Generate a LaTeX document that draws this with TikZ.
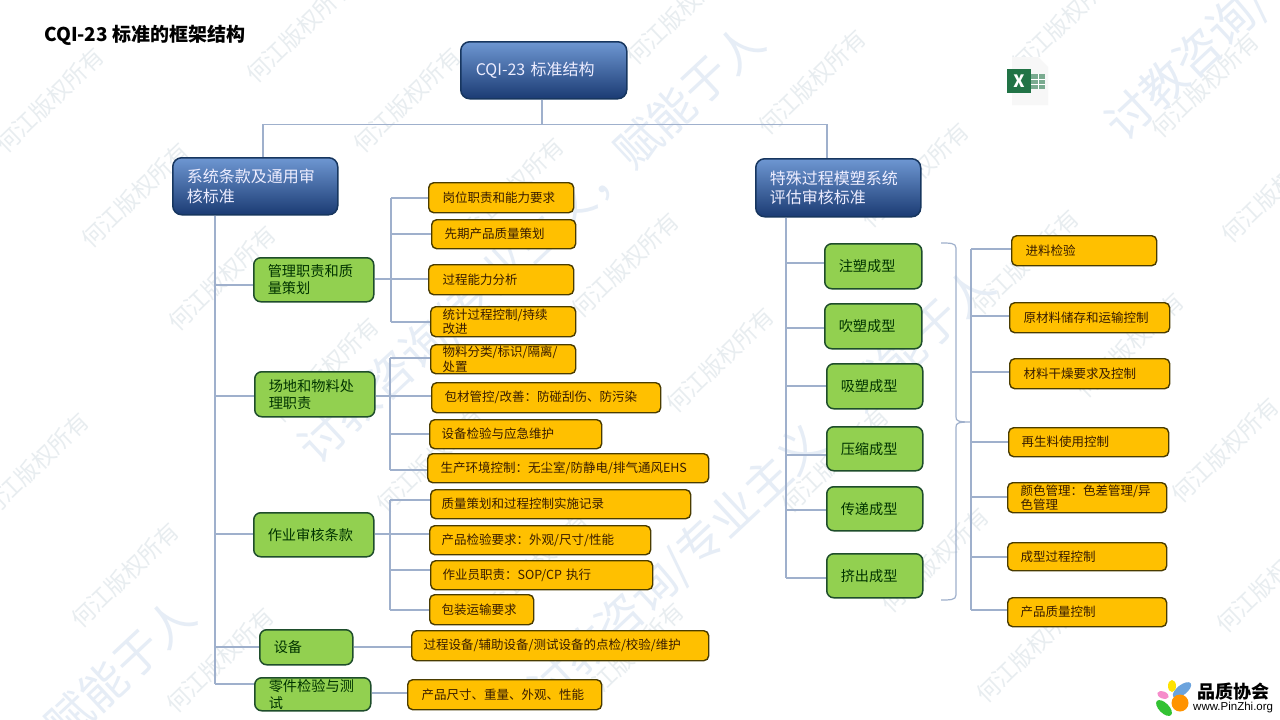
\documentclass[tikz,border=0pt]{standalone}
\usepackage{fontspec}
\setmainfont{Noto Sans CJK SC}
\newfontfamily\logolat{Liberation Sans}
\usetikzlibrary{shadings}
\definecolor{conn}{HTML}{9FB0CC}
\definecolor{orf}{HTML}{FFC000}
\definecolor{ord}{HTML}{4A3C00}
\definecolor{grf}{HTML}{92D050}
\definecolor{grd}{HTML}{1E4D2B}
\definecolor{blt}{HTML}{6E97D2}
\definecolor{blm}{HTML}{3F69AE}
\definecolor{blb}{HTML}{1B3B73}
\definecolor{bld}{HTML}{17365F}
\definecolor{wmsmall}{HTML}{E8EDF0}
\definecolor{wmbig}{HTML}{E6EDF6}
\tikzset{
 boxbase/.style={draw,anchor=north west,align=left,inner ysep=0pt},
 orbox/.style={boxbase,fill=orf,draw=ord,line width=1.4pt,rounded corners=5pt,text=black!78!orange,font=\fontsize{12.5}{14.5}\selectfont},
 grbox/.style={boxbase,fill=grf,draw=grd,line width=1.5pt,rounded corners=7pt,text=black!80!green,font=\fontsize{14.2}{17}\selectfont},
 blbox/.style={boxbase,top color=blt,middle color=blm,bottom color=blb,draw=bld,line width=1.5pt,rounded corners=9pt,text=white!93!blue,font=\fontsize{16}{19.5}\selectfont},
 cn/.style={draw=conn,line width=1.2pt},
 wms/.style={text=wmsmall,rotate=44,font=\fontsize{23}{23}\selectfont},
 wmb/.style={text=wmbig,rotate=43,font=\fontsize{46}{46}\selectfont},
}
% #1 style, #2 name, #3-#6 x1,y1,x2,y2, #7 text inset, #8 text
\newcommand{\bx}[8]{\pgfmathsetmacro{\bxw}{#5-#3-1}\pgfmathsetmacro{\bxh}{#6-#4-1}\pgfmathsetmacro{\bxi}{#7-1}\pgfmathsetmacro{\bxt}{#5-#3-1-2*(#7-1)}%
 \node[#1,minimum width=\bxw pt,minimum height=\bxh pt,inner xsep=\bxi pt,text width=\bxt pt] (#2) at (#3,#4) {#8};}
% branch from trunk coordinate #1 to node #2 at height #3
\newcommand{\brn}[3]{\draw[cn] (#1 |- 0,#3) -- (#2.west |- 0,#3);}
\begin{document}
\begin{tikzpicture}[x=1pt,y=-1pt]
\useasboundingbox (0,0) rectangle (1280,720);
\fill[white] (0,0) rectangle (1280,720);
% watermarks
\foreach \n/\x/\y in {1/50/100,2/300/30,3/407/100,4/680/12,5/812/82,6/1065/20,7/1205/85,8/135/195,9/510/190,10/915/175,11/1275/190,13/222/278,14/625/265,15/1025/262,16/325/370,17/720/360,18/1130/345,19/35/465,20/430/460,21/835/460,22/1225/450,23/125/575,24/535/565,25/935/560,26/1270/580,27/220/660,28/630/655,29/1030/650}
 \node[wms] (wm\n) at (\x,\y) {何江版权所有};
\node[wmb] (wbA) at (532,245) {讨教咨询/专业主义，赋能于人};
\node[wmb] (wbB) at (762,488) {讨教咨询/专业主义，赋能于人};
\node[wmb,anchor=east] (wbC) at (190,605) {赋能于人};
\node[wmb,anchor=west] (wbD) at (1112,135) {讨教咨询/专业};
% title
\node[anchor=west,inner sep=0pt,font=\fontsize{19}{20}\selectfont\bfseries] (title) at (44,35) {CQI-23 标准的框架结构};
% trunks
\coordinate (tl) at (215,684);
\coordinate (tr) at (786,578);
\coordinate (hb) at (542,124.5);
\coordinate (b1) at (391,322);
\coordinate (b2) at (390,470);
\coordinate (b3) at (390,610);
\coordinate (rt) at (971,610);
% boxes
\bx{blbox}{root}{460}{41}{627}{99}{16}{CQI-23 标准结构}
\bx{blbox}{bl}{172}{157}{338}{215}{15}{系统条款及通用审\\核标准}
\bx{blbox}{brr}{755}{158}{921}{217}{15}{特殊过程模塑系统\\评估审核标准}
\bx{grbox}{g1}{253}{257}{374}{302}{15}{管理职责和质\\量策划}
\bx{grbox}{g2}{254}{371}{375}{417}{15}{场地和物料处\\理职责}
\bx{grbox}{g3}{253}{512}{374}{557}{15}{作业审核条款}
\bx{grbox}{g4}{259}{629}{353}{665}{15}{设备}
\bx{grbox}{g5}{254}{677}{371}{711}{15}{零件检验与测\\试}
\bx{orbox}{a1}{428}{182}{574}{213}{15}{岗位职责和能力要求}
\bx{orbox}{a2}{431}{219}{576}{249}{14}{先期产品质量策划}
\bx{orbox}{a3}{428}{264}{574}{295}{15}{过程能力分析}
\bx{orbox}{a4}{430}{306}{576}{337}{13}{统计过程控制/持续\\改进}
\bx{orbox}{c1}{430}{344}{576}{374}{13}{物料分类/标识/隔离/\\处置}
\bx{orbox}{c2}{431}{382}{661}{413}{14}{包材管控/改善：防碰刮伤、防污染}
\bx{orbox}{c3}{429}{419}{602}{449}{13}{设备检验与应急维护}
\bx{orbox}{c4}{427}{453}{709}{483}{14}{生产环境控制：无尘室/防静电/排气通风EHS}
\bx{orbox}{d1}{430}{489}{691}{519}{12}{质量策划和过程控制实施记录}
\bx{orbox}{d2}{429}{525}{651}{555}{13}{产品检验要求：外观/尺寸/性能}
\bx{orbox}{d3}{430}{560}{653}{590}{13}{作业员职责：SOP/CP 执行}
\bx{orbox}{d4}{429}{594}{534}{625}{13}{包装运输要求}
\bx{orbox}{e1}{411}{630}{709}{661}{13}{过程设备/辅助设备/测试设备的点检/校验/维护}
\bx{orbox}{f1}{407}{679}{602}{710}{15}{产品尺寸、重量、外观、性能}
\bx{grbox}{m1}{824}{243}{922}{289}{15}{注塑成型}
\bx{grbox}{m2}{824}{303}{922}{349}{15}{吹塑成型}
\bx{grbox}{m3}{826}{363}{923}{409}{15}{吸塑成型}
\bx{grbox}{m4}{826}{426}{923}{471}{15}{压缩成型}
\bx{grbox}{m5}{826}{486}{923}{531}{15}{传递成型}
\bx{grbox}{m6}{826}{553}{923}{598}{15}{挤出成型}
\bx{orbox}{r1}{1011}{235}{1157}{266}{15}{进料检验}
\bx{orbox}{r2}{1009}{302}{1170}{333}{15}{原材料储存和运输控制}
\bx{orbox}{r3}{1009}{358}{1170}{389}{15}{材料干燥要求及控制}
\bx{orbox}{r4}{1008}{427}{1169}{457}{14}{再生料使用控制}
\bx{orbox}{r5}{1007}{482}{1167}{513}{14}{颜色管理：色差管理/异\\色管理}
\bx{orbox}{r6}{1007}{542}{1167}{571}{14}{成型过程控制}
\bx{orbox}{r7}{1007}{597}{1167}{627}{14}{产品质量控制}
% connectors: top
\draw[cn] (root.south -| hb) -- (hb);
\draw[cn] (bl.north -| 263,0) |- (hb) -| (brr.north -| 827,0);
% left trunk
\draw[cn] (tl |- bl.south) -- (tl);
\brn{tl}{g1}{285}\brn{tl}{g2}{396}\brn{tl}{g3}{534}\brn{tl}{g4}{647}\brn{tl}{g5}{684}
% group 1
\draw[cn] (b1 |- 0,198) -- (b1);
\brn{b1}{a1}{198}\brn{b1}{a2}{234}\brn{b1}{a4}{322}
\draw[cn] (g1.east |- 0,279) -- (a3.west |- 0,279);
% group 2
\draw[cn] (b2 |- 0,358) -- (b2);
\brn{b2}{c1}{358}\brn{b2}{c3}{434}\brn{b2}{c4}{470}
\draw[cn] (g2.east |- 0,396) -- (c2.west |- 0,396);
% group 3
\draw[cn] (b3 |- 0,500) -- (b3);
\brn{b3}{d1}{500}\brn{b3}{d3}{570}\brn{b3}{d4}{610}
\draw[cn] (g3.east |- 0,534) -- (d2.west |- 0,534);
% single
\draw[cn] (g4.east |- 0,647) -- (e1.west |- 0,647);
\draw[cn] (g5.east |- 0,693) -- (f1.west |- 0,693);
% right trunk
\draw[cn] (tr |- brr.south) -- (tr);
\brn{tr}{m1}{263}\brn{tr}{m2}{328}\brn{tr}{m3}{386}\brn{tr}{m4}{455}\brn{tr}{m5}{510}\brn{tr}{m6}{578}
% brace
\draw[cn] (941,243) .. controls (950,243) and (956,243) .. (956,248) -- (956,417) .. controls (956,421) and (958,422) .. (971,422) .. controls (958,422) and (956,423) .. (956,427) -- (956,595) .. controls (956,600) and (950,600) .. (941,600);
% right group
\draw[cn] (rt |- 0,249) -- (rt);
\brn{rt}{r1}{249}\brn{rt}{r2}{316}\brn{rt}{r3}{372}\brn{rt}{r4}{442}\brn{rt}{r5}{497}\brn{rt}{r6}{557}\brn{rt}{r7}{610}
% excel icon
\definecolor{xlg}{HTML}{217346}
\fill[gray!6] (1012,57) -- (1038,57) -- (1048,67) -- (1048,105) -- (1012,105) -- cycle;
\fill[xlg!60!white] (1031,74) rectangle (1045,89);
\draw[white,line width=.7pt] (1031,79) -- (1045,79) (1031,84) -- (1045,84) (1038,74) -- (1038,89);
\fill[xlg] (1007,69) rectangle (1031,93);
\node[text=white,inner sep=0pt,font=\fontsize{17}{17}\selectfont\bfseries] (xl) at (1019,81) {X};
% logo
\fill[cyan!60!blue!60!white,rotate around={38:(1182,690)}] (1182,690) ellipse (11 and 5);
\fill[yellow!85!orange] (1172,686) ellipse (4 and 6);
\fill[orange!85!yellow] (1180,703) circle (8.5);
\fill[magenta!45!white,rotate around={-20:(1163,695)}] (1163,695) ellipse (6 and 3.5);
\fill[green!70!black!80!white,rotate around={-45:(1164,708)}] (1164,708) ellipse (10 and 5);
\node[anchor=west,inner sep=0pt,font=\fontsize{18}{18}\selectfont\bfseries] (lg1) at (1197,692) {品质协会};
\node[anchor=west,inner sep=0pt,font=\logolat\fontsize{11.5}{12}\selectfont] (lg2) at (1193,708) {www.PinZhi.org};
\end{tikzpicture}
\end{document}
